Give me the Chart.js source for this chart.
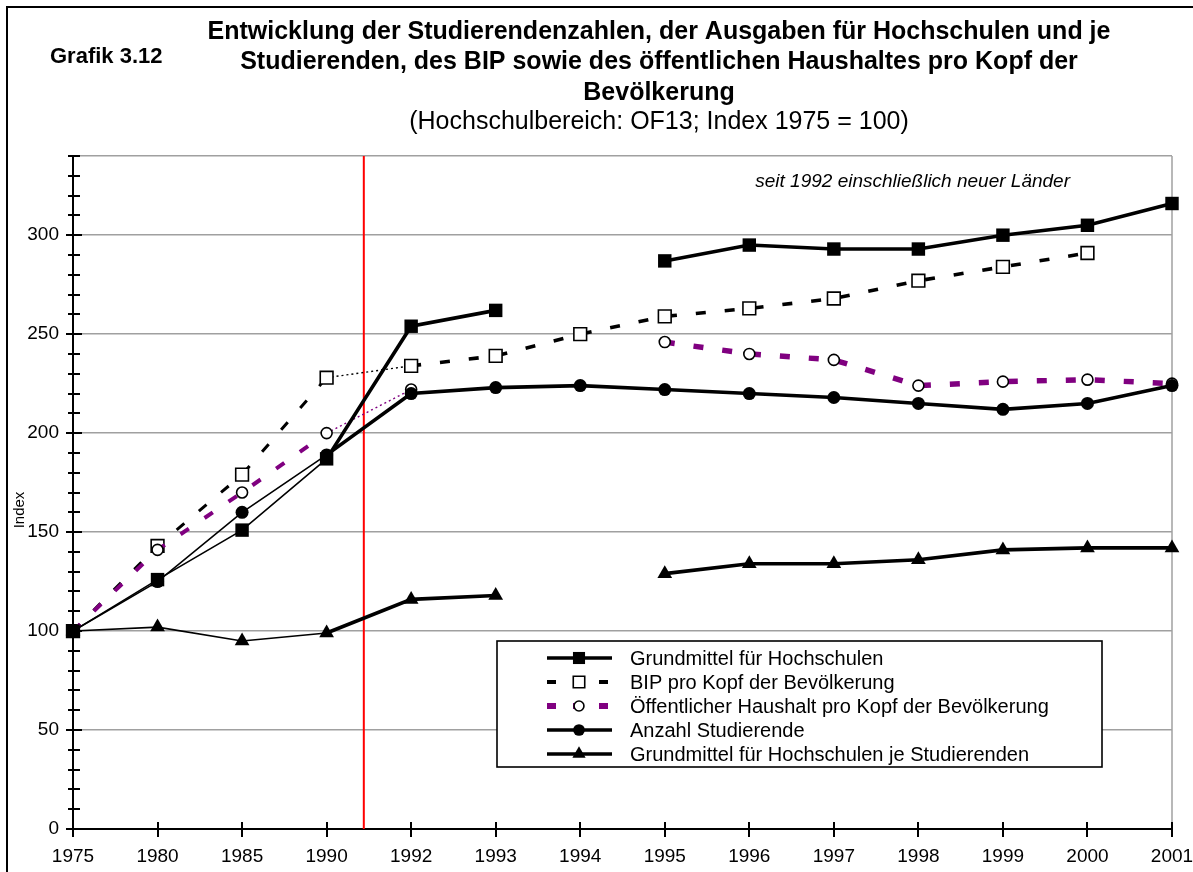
<!DOCTYPE html>
<html>
<head>
<meta charset="utf-8">
<title>Grafik 3.12</title>
<script src="https://cdn.jsdelivr.net/npm/chart.js@4.4.1/dist/chart.umd.min.js"></script>
<style>
  html, body { margin: 0; padding: 0; background: #fff; }
  #wrap { width: 1193px; height: 872px; position: relative; overflow: hidden; }
</style>
</head>
<body>
<div id="wrap"><canvas id="chart" width="1193" height="872"></canvas></div>
<script>
// ---- data (Index 1975 = 100) ----
const years = ['1975', '1980', '1985', '1990', '1992', '1993', '1994', '1995', '1996', '1997', '1998', '1999', '2000', '2001'];
const grundmittel = [100, 126, 151, 187, 254, 262, null, 287, 295, 293, 293, 300, 305, 316];
const bipProKopf = [100, 143, 179, 228, 234, 239, 250, 259, 263, 268, 277, 284, 291, null];
const haushaltProKopf = [100, 141, 170, 200, 222, null, null, 246, 240, 237, 224, 226, 227, 225];
const studierende = [100, 125, 160, 189, 220, 223, 224, 222, 220, 218, 215, 212, 215, 224];
const grundmittelJeStudierenden = [100, 102, 95, 99, 116, 118, null, 129, 134, 134, 136, 141, 142, 142];
const yMax = 340;
const yStep = 10;
const yLabelStep = 50;

const figureLabel = 'Grafik 3.12';
const titleLines = [
    'Entwicklung der Studierendenzahlen, der Ausgaben für Hochschulen und je',
    'Studierenden, des BIP sowie des öffentlichen Haushaltes pro Kopf der',
    'Bevölkerung'
];
const subtitle = '(Hochschulbereich: OF13; Index 1975 = 100)';
const note = 'seit 1992 einschließlich neuer Länder';

// segment starting at this index (1990 -> 1992) is the link between old and new series
const linkIndex = 3;
// red separator between 1990 and 1992, as a category position
const separatorPos = 3.44;

const FONT = '"Liberation Sans", Arial, Helvetica, sans-serif';
const PURPLE = '#800080';
const GRID = '#a0a0a0';

Chart.defaults.font.family = FONT;
Chart.defaults.color = '#000';

function solidWidth(ctx) {
    return ctx.p0DataIndex < linkIndex ? 1.6 : 3.6;
}
function dashedWidth(early, late) {
    return ctx => ctx.p0DataIndex < linkIndex ? early : (ctx.p0DataIndex === linkIndex ? 1.4 : late);
}
function dashPattern(ctx) {
    return ctx.p0DataIndex === linkIndex ? [2, 3] : [10, 19];
}

const datasets = [
    {
        label: 'Grundmittel für Hochschulen',
        data: grundmittel,
        borderColor: '#000',
        backgroundColor: '#000',
        pointStyle: 'rect',
        pointRadius: 9.5,
        pointBorderWidth: 0,
        segment: { borderWidth: solidWidth },
        order: 0
    },
    {
        label: 'BIP pro Kopf der Bevölkerung',
        data: bipProKopf,
        borderColor: '#000',
        backgroundColor: '#fff',
        pointStyle: 'rect',
        pointRadius: 9,
        pointBorderWidth: 1.6,
        pointBorderColor: '#000',
        segment: { borderWidth: dashedWidth(3, 3.6), borderDash: dashPattern },
        legendDash: [9, 17],
        order: 3
    },
    {
        label: 'Öffentlicher Haushalt pro Kopf der Bevölkerung',
        data: haushaltProKopf,
        borderColor: PURPLE,
        backgroundColor: '#fff',
        pointStyle: 'circle',
        pointRadius: 5.5,
        pointBorderWidth: 1.6,
        pointBorderColor: '#000',
        segment: { borderWidth: dashedWidth(4, 5.5), borderDash: dashPattern },
        legendDash: [9, 17],
        order: 2
    },
    {
        label: 'Anzahl Studierende',
        data: studierende,
        borderColor: '#000',
        backgroundColor: '#000',
        pointStyle: 'circle',
        pointRadius: 6.5,
        pointBorderWidth: 0,
        segment: { borderWidth: solidWidth },
        order: 1
    },
    {
        label: 'Grundmittel für Hochschulen je Studierenden',
        data: grundmittelJeStudierenden,
        borderColor: '#000',
        backgroundColor: '#000',
        pointStyle: 'triangle',
        pointRadius: 8.5,
        pointBorderWidth: 0,
        segment: { borderWidth: solidWidth },
        order: 4
    }
];

// everything that is not a data mark: header texts, frame, crossing ticks, legend
const decorations = {
    id: 'decorations',
    beforeDraw(chart) {
        const c = chart.ctx;
        c.save();
        c.fillStyle = '#fff';
        c.fillRect(0, 0, chart.width, chart.height);
        c.strokeStyle = '#000';
        c.lineWidth = 2;
        c.strokeRect(7, 7, chart.width + 20, chart.height + 20);

        c.fillStyle = '#000';
        c.textBaseline = 'middle';
        c.textAlign = 'left';
        c.font = 'bold 22px ' + FONT;
        c.fillText(figureLabel, 50, 57);

        c.textAlign = 'center';
        c.font = 'bold 25px ' + FONT;
        titleLines.forEach((line, i) => c.fillText(line, 659, 32 + i * 30.5));
        c.font = '25px ' + FONT;
        c.fillText(subtitle, 659, 122);
        c.restore();
    },
    beforeDatasetsDraw(chart) {
        const c = chart.ctx;
        const area = chart.chartArea;
        const x = chart.scales.x;
        c.save();
        // plot frame (right side)
        c.strokeStyle = GRID;
        c.lineWidth = 1.5;
        c.beginPath();
        c.moveTo(area.right, area.top);
        c.lineTo(area.right, area.bottom);
        c.stroke();
        // red separator
        const x0 = x.getPixelForValue(Math.floor(separatorPos));
        const x1 = x.getPixelForValue(Math.ceil(separatorPos));
        const xs = x0 + (x1 - x0) * (separatorPos - Math.floor(separatorPos));
        c.strokeStyle = '#ff0000';
        c.lineWidth = 2;
        c.beginPath();
        c.moveTo(xs, area.top);
        c.lineTo(xs, area.bottom);
        c.stroke();
        c.restore();
    },
    afterDraw(chart) {
        const c = chart.ctx;
        const area = chart.chartArea;
        const xs = chart.scales.x;
        const ys = chart.scales.y;
        c.save();
        c.strokeStyle = '#000';
        c.lineWidth = 2;
        c.beginPath();
        // y ticks crossing the axis
        for (let v = 0; v <= yMax; v += yStep) {
            const py = Math.round(ys.getPixelForValue(v));
            const major = v % yLabelStep === 0;
            c.moveTo(area.left - (major ? 7 : 5), py);
            c.lineTo(area.left + (major ? 9 : 7), py);
        }
        // x ticks crossing the axis
        years.forEach((_, i) => {
            const px = Math.round(xs.getPixelForTick(i));
            c.moveTo(px, area.bottom - 7);
            c.lineTo(px, area.bottom + 8);
        });
        c.stroke();

        // axis title
        c.fillStyle = '#000';
        c.font = '15px ' + FONT;
        c.textAlign = 'center';
        c.textBaseline = 'middle';
        c.translate(20, 510);
        c.rotate(-Math.PI / 2);
        c.fillText('Index', 0, 0);
        c.setTransform(1, 0, 0, 1, 0, 0);

        // note
        c.font = 'italic 19px ' + FONT;
        c.textAlign = 'right';
        c.fillText(note, 1070, 182);

        // legend
        const box = { x: 497, y: 641, w: 605, h: 126 };
        c.fillStyle = '#fff';
        c.fillRect(box.x, box.y, box.w, box.h);
        c.strokeStyle = '#000';
        c.lineWidth = 1.6;
        c.strokeRect(box.x, box.y, box.w, box.h);
        chart.data.datasets.forEach((ds, i) => {
            const ly = 658 + i * 24;
            c.strokeStyle = ds.borderColor;
            c.lineWidth = ds.legendDash ? (ds.borderColor === PURPLE ? 6 : 4) : 3.6;
            c.setLineDash(ds.legendDash || []);
            c.beginPath();
            c.moveTo(547, ly);
            c.lineTo(612, ly);
            c.stroke();
            c.setLineDash([]);
            c.fillStyle = ds.backgroundColor;
            c.strokeStyle = ds.pointBorderColor || '#000';
            c.lineWidth = ds.pointBorderWidth;
            Chart.helpers.drawPoint(c, {
                pointStyle: ds.pointStyle,
                radius: ds.pointRadius * 0.9,
                rotation: 0,
                borderWidth: ds.pointBorderWidth
            }, 579, ly);
            c.fillStyle = '#000';
            c.font = '20px ' + FONT;
            c.textAlign = 'left';
            c.textBaseline = 'middle';
            c.fillText(ds.label, 630, ly + 1);
        });
        c.restore();
    }
};

new Chart(document.getElementById('chart'), {
    type: 'line',
    data: { labels: years, datasets: datasets },
    options: {
        responsive: false,
        animation: false,
        devicePixelRatio: 1,
        layout: { padding: { top: 156, right: 21, bottom: 0, left: 0 } },
        elements: {
            line: { tension: 0, borderCapStyle: 'butt', fill: false },
            point: { hoverRadius: 0 }
        },
        datasets: { line: { clip: false, spanGaps: false } },
        plugins: {
            legend: { display: false },
            title: { display: false },
            tooltip: { enabled: false }
        },
        scales: {
            x: {
                type: 'category',
                offset: false,
                grid: { display: false, drawTicks: false },
                border: { color: '#000', width: 2 },
                ticks: {
                    autoSkip: false,
                    maxRotation: 0,
                    padding: 16,
                    font: { size: 19 },
                    color: '#000'
                },
                afterFit(scale) {
                    scale.height = 43;
                    scale.paddingLeft = 0;
                    scale.paddingRight = 0;
                }
            },
            y: {
                min: 0,
                max: yMax,
                grid: {
                    drawTicks: false,
                    lineWidth: 1.5,
                    color: ctx => (ctx.tick.value % yLabelStep === 0 || ctx.tick.value === yMax) ? GRID : 'rgba(0,0,0,0)'
                },
                border: { color: '#000', width: 2 },
                ticks: {
                    stepSize: yStep,
                    autoSkip: false,
                    padding: 14,
                    font: { size: 19 },
                    color: '#000',
                    callback: v => (v % yLabelStep === 0 ? String(v) : '')
                },
                afterFit(scale) {
                    scale.width = 73;
                    scale.paddingTop = 0;
                    scale.paddingBottom = 0;
                }
            }
        }
    },
    plugins: [decorations]
});
</script>
</body>
</html>
